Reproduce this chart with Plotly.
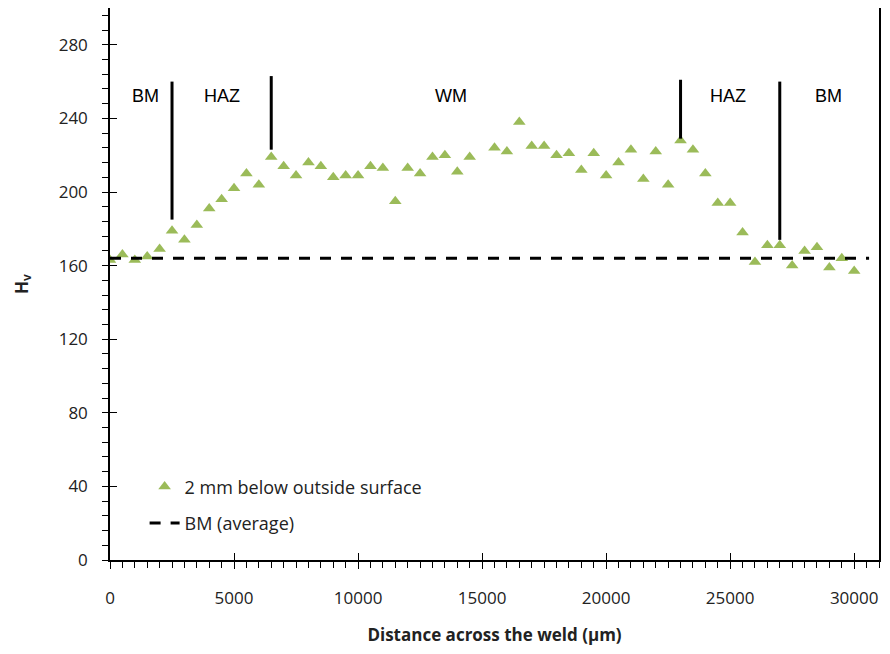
import plotly.graph_objects as go

# ---- data ----
distance_um = [0, 500, 1000, 1500, 2000, 2500, 3000, 3500, 4000, 4500,
               5000, 5500, 6000, 6500, 7000, 7500, 8000, 8500, 9000, 9500,
               10000, 10500, 11000, 11500, 12000, 12500, 13000, 13500, 14000, 14500,
               15500, 16000, 16500, 17000, 17500, 18000, 18500, 19000, 19500, 20000,
               20500, 21000, 21500, 22000, 22500, 23000, 23500, 24000, 24500, 25000,
               25500, 26000, 26500, 27000, 27500, 28000, 28500, 29000, 29500, 30000]
hardness_hv = [163, 166, 163, 165, 169, 179, 174, 182, 191, 196,
               202, 210, 204, 219, 214, 209, 216, 214, 208, 209,
               209, 214, 213, 195, 213, 210, 219, 220, 211, 219,
               224, 222, 238, 225, 225, 220, 221, 212, 221, 209,
               216, 223, 207, 222, 204, 228, 223, 210, 194, 194,
               178, 162, 171, 171, 160, 168, 170, 159, 164, 157]

bm_average = 164
bm_line_x = [0, 30600]

boundary_x = [2500, 6500, 23000, 27000]
boundary_y_low = [185, 223, 229, 174]
boundary_y_high = [260, 263, 261, 260]

zone_labels = ["BM", "HAZ", "WM", "HAZ", "BM"]
zone_label_x = [1450, 4500, 13750, 24930, 28950]
zone_label_y = 252

x_range = [0, 31000]
y_range = [0, 300]

series_name = "2 mm below outside surface"
avg_name = "BM (average)"
x_title = "Distance across the weld (µm)"
y_title = "H<sub>v</sub>"

# ---- figure ----
fig = go.Figure()

fig.add_trace(go.Scatter(
    x=distance_um, y=hardness_hv, mode="markers", name=series_name,
    marker=dict(symbol="triangle-up", size=11, color="#9BBB59"),
    legendgroup="a",
))
fig.add_trace(go.Scatter(
    x=bm_line_x, y=[bm_average] * len(bm_line_x), mode="lines", name=avg_name,
    line=dict(color="black", width=3, dash="11px,10px"),
    legendgroup="b",
))

bx, by = [], []
for xv, y0, y1 in zip(boundary_x, boundary_y_low, boundary_y_high):
    bx += [xv, xv, None]
    by += [y0, y1, None]
fig.add_trace(go.Scatter(
    x=bx, y=by, mode="lines", line=dict(color="black", width=3),
    showlegend=False, hoverinfo="skip", xaxis="x2", yaxis="y2",
))

for lbl, lx in zip(zone_labels, zone_label_x):
    fig.add_annotation(x=lx, y=zone_label_y, text=lbl, showarrow=False,
                       xanchor="center", yanchor="middle",
                       font=dict(family="Liberation Sans, Arial", size=18, color="black"))

tick_font = dict(family="Open Sans", size=17, color="#222222")

# the page body adds an 8px margin, so the figure is sized to fit inside the window
fig.update_layout(
    width=874, height=638,
    margin=dict(l=102, r=3, t=0, b=86),
    paper_bgcolor="white", plot_bgcolor="white",
    showlegend=True,
    legend=dict(x=0.045, y=0.166, xanchor="left", yanchor="top",
                bgcolor="rgba(0,0,0,0)", traceorder="grouped", tracegroupgap=10,
                font=dict(family="Open Sans", size=18, color="#222222")),
    xaxis=dict(range=x_range, dtick=5000, tick0=0, tickformat="d", showgrid=False, zeroline=False,
               automargin=False,
               showline=True, linecolor="black", linewidth=1.5, mirror=True,
               ticks="outside", ticklen=7, tickcolor="black", tickwidth=1,
               ticklabelstandoff=15, tickfont=tick_font,
               minor=dict(dtick=500, ticks="outside", ticklen=6, tickcolor="black", tickwidth=1),
               title=dict(text="<b>" + x_title + "</b>", standoff=22,
                          font=dict(family="Open Sans", size=17, color="#222222"))),
    yaxis=dict(range=y_range, dtick=40, tick0=0, showgrid=False, zeroline=False,
               automargin=False,
               showline=True, linecolor="black", linewidth=1.5, mirror=True,
               ticks="outside", ticklen=6, tickcolor="black", tickwidth=1,
               ticklabelstandoff=11, tickfont=tick_font,
               minor=dict(dtick=8, ticks="outside", ticklen=6, tickcolor="black", tickwidth=1),
               title=dict(text="<b>" + y_title + "</b>", standoff=26,
                          font=dict(family="Open Sans", size=17, color="#222222"))),
    xaxis2=dict(range=x_range, overlaying="x", dtick=5000, tick0=0, showgrid=False,
                automargin=False,
                zeroline=False, showline=False, showticklabels=False,
                ticks="inside", ticklen=7, tickcolor="black", tickwidth=1),
    yaxis2=dict(range=y_range, overlaying="y", dtick=40, tick0=0, showgrid=False,
                automargin=False,
                zeroline=False, showline=False, showticklabels=False,
                ticks="inside", ticklen=7, tickcolor="black", tickwidth=1),
)

fig.write_html("out.html")
